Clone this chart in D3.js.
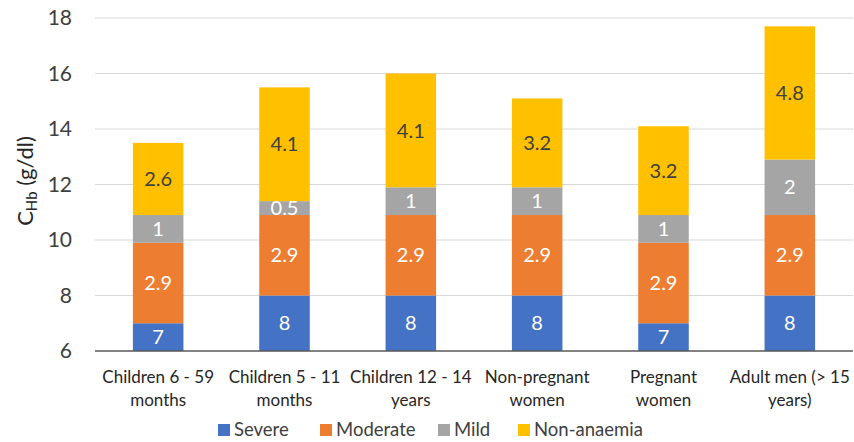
<!DOCTYPE html>
<html>
<head>
<meta charset="utf-8">
<script src="https://cdn.jsdelivr.net/npm/d3@7"></script>
<style>
  body { margin: 0; background: #fff; }
  text { font-family: Lato, "Open Sans", sans-serif; }
</style>
</head>
<body>
<div id="chart"></div>
<script>
// Chart data
var categories = [
  ["Children 6 - 59", "months"],
  ["Children 5 - 11", "months"],
  ["Children 12 - 14", "years"],
  ["Non-pregnant", "women"],
  ["Pregnant", "women"],
  ["Adult men (> 15", "years)"]
];
var seriesNames = ["Severe", "Moderate", "Mild", "Non-anaemia"];
var severe = [7, 8, 8, 8, 7, 8];
var moderate = [2.9, 2.9, 2.9, 2.9, 2.9, 2.9];
var mild = [1, 0.5, 1, 1, 1, 2];
var nonAnaemia = [2.6, 4.1, 4.1, 3.2, 3.2, 4.8];
var yTicks = [6, 8, 10, 12, 14, 16, 18];

var colors = ["#4472C4", "#ED7D31", "#A5A5A5", "#FFC000"];
var labelColors = ["#ffffff", "#ffffff", "#ffffff", "#404040"];

// SVG area
var svgWidth = 854;
var svgHeight = 442;
var Margin = { top: 18, right: 1, bottom: 91, left: 95 };
var width = svgWidth - Margin.left - Margin.right;
var height = svgHeight - Margin.top - Margin.bottom;

var svg = d3.select("#chart")
  .append("svg")
  .attr("width", svgWidth)
  .attr("height", svgHeight);

var chartGroup = svg.append("g")
  .attr("transform", `translate(${Margin.left}, ${Margin.top})`);

// Build rows; severe is drawn from the axis floor (6) up to its value
var rows = categories.map(function(c, i) {
  return { idx: i, Severe: severe[i] - 6, Moderate: moderate[i], Mild: mild[i], "Non-anaemia": nonAnaemia[i],
    labels: [severe[i], moderate[i], mild[i], nonAnaemia[i]] };
});

var stack = d3.stack().keys(seriesNames);
var stacked = stack(rows);

// Scales
var xBandScale = d3.scaleBand()
  .domain(d3.range(categories.length))
  .range([0, width])
  .paddingInner(0.6)
  .paddingOuter(0.3);

var yLinearScale = d3.scaleLinear()
  .domain([6, 18])
  .range([height, 0]);

// Gridlines
chartGroup.append("g")
  .selectAll("line")
  .data(yTicks.filter(d => d > 6))
  .enter()
  .append("line")
  .attr("x1", 0)
  .attr("x2", width)
  .attr("y1", d => yLinearScale(d))
  .attr("y2", d => yLinearScale(d))
  .attr("stroke", "#d9d9d9")
  .attr("stroke-width", 1);

// Left axis (labels only)
var leftAxis = d3.axisLeft(yLinearScale).tickValues(yTicks).tickSize(0).tickPadding(23);
var yAxisG = chartGroup.append("g").call(leftAxis);
yAxisG.select(".domain").remove();
yAxisG.selectAll("text")
  .attr("font-size", "21px")
  .attr("fill", "#404040")
  .style("font-family", "Lato, sans-serif");

// Bars
var layers = chartGroup.selectAll(".layer")
  .data(stacked)
  .enter()
  .append("g")
  .attr("class", "layer")
  .attr("fill", (d, i) => colors[i]);

layers.selectAll("rect")
  .data(d => d)
  .enter()
  .append("rect")
  .attr("x", d => xBandScale(d.data.idx))
  .attr("width", xBandScale.bandwidth())
  .attr("y", d => yLinearScale(6 + d[1]))
  .attr("height", d => yLinearScale(6 + d[0]) - yLinearScale(6 + d[1]));

// Segment labels
stacked.forEach(function(layer, li) {
  chartGroup.append("g")
    .selectAll("text")
    .data(layer)
    .enter()
    .append("text")
    .attr("x", d => xBandScale(d.data.idx) + xBandScale.bandwidth() / 2)
    .attr("y", d => yLinearScale(6 + (d[0] + d[1]) / 2))
    .attr("dy", "0.36em")
    .attr("text-anchor", "middle")
    .attr("font-size", "20px")
    .attr("fill", labelColors[li])
    .text(d => d.data.labels[li]);
});

// Baseline
chartGroup.append("line")
  .attr("x1", 0)
  .attr("x2", width)
  .attr("y1", height)
  .attr("y2", height)
  .attr("stroke", "#595959")
  .attr("stroke-width", 1.5);

// Category labels
var catLabels = chartGroup.selectAll(".cat")
  .data(categories)
  .enter()
  .append("text")
  .attr("class", "cat")
  .attr("text-anchor", "middle")
  .attr("font-size", "17px")
  .attr("fill", "#262626");

catLabels.selectAll("tspan")
  .data((d, i) => d.map(t => ({ t: t, i: i })))
  .enter()
  .append("tspan")
  .attr("x", d => xBandScale(d.i) + xBandScale.bandwidth() / 2)
  .attr("y", (d, j) => height + 32 + j * 23)
  .text(d => d.t);

// Y axis title
var yTitle = svg.append("text")
  .attr("transform", `translate(33, 181) rotate(-90)`)
  .attr("text-anchor", "middle")
  .attr("font-size", "22px")
  .attr("fill", "#262626");
yTitle.append("tspan").text("C");
yTitle.append("tspan").attr("font-size", "15px").attr("dy", "4").text("Hb");
yTitle.append("tspan").attr("dy", "-4").text(" (g/dl)");

// Legend
var legendX = [218, 320, 438, 518];
var legend = svg.selectAll(".legend")
  .data(seriesNames)
  .enter()
  .append("g")
  .attr("class", "legend")
  .attr("transform", (d, i) => `translate(${legendX[i]}, 430)`);

legend.append("rect")
  .attr("x", 0)
  .attr("y", -6)
  .attr("width", 12)
  .attr("height", 12)
  .attr("fill", (d, i) => colors[i]);

legend.append("text")
  .attr("x", 16)
  .attr("y", 0)
  .attr("dy", "0.35em")
  .attr("font-size", "18.5px")
  .attr("fill", "#404040")
  .text(d => d);
</script>
</body>
</html>
